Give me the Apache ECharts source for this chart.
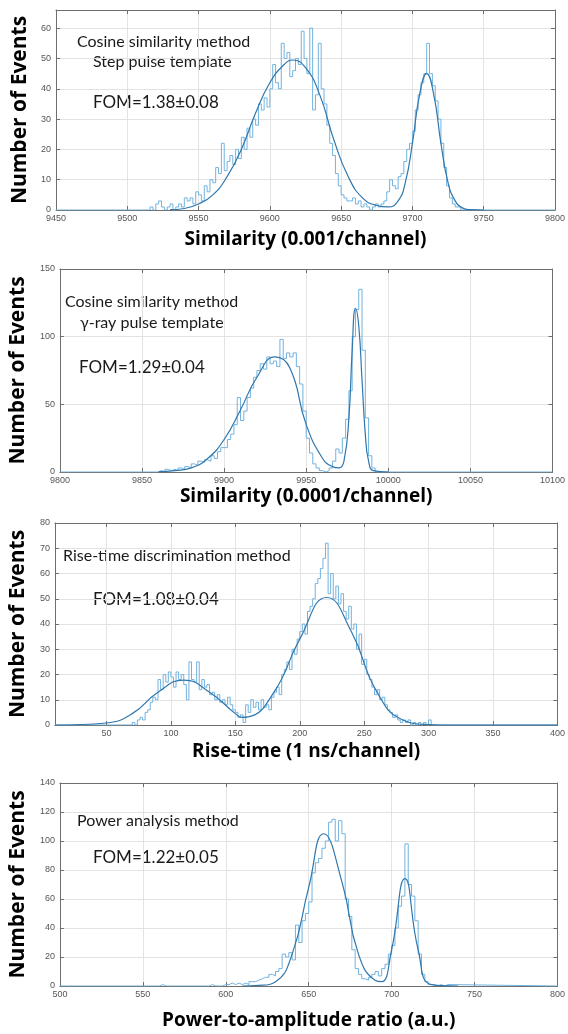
<!DOCTYPE html>
<html><head><meta charset="utf-8">
<script src="https://cdn.jsdelivr.net/npm/echarts@6/dist/echarts.min.js"></script>
<style>html,body{margin:0;padding:0;background:#fff}#c{width:568px;height:1034px}</style>
</head><body><div id="c"></div><script>
// ---------- Panel 1: Cosine similarity, step pulse template ----------
const p1XRange = [9450, 9800];
const p1YRange = [0, 66];
const p1XTicks = [9450, 9500, 9550, 9600, 9650, 9700, 9750, 9800];
const p1YTicks = [0, 10, 20, 30, 40, 50, 60];
const p1HistStart = 9516, p1HistStep = 2;
const p1Counts = [
  1,0,2,3,1,0,1,2,0,1,
  2,1,4,3,4,2,6,5,3,8,
  6,10,9,14,12,22,13,16,18,15,
  20,17,24,20,27,24,30,28,35,33,
  37,34,40,48,42,40,55,50,52,44,
  46,50,48,59,50,45,60,33,38,55,
  40,35,28,22,18,12,8,5,4,3,
  3,4,2,3,1,2,1,0,1,2,
  1,2,3,6,10,8,7,11,12,16,
  20,22,26,33,38,42,45,55,45,41,
  36,30,22,14,8,4,2,1,1,0
];
const p1FitX = [9530,9540,9550,9560,9570,9580,9590,9600,9610,9616,9625,9635,9645,9655,9665,9675,9683,9690,9695,9700,9705,9710,9715,9720,9725,9730,9735,9740,9750];
const p1FitY = [0.1,0.5,2,5,11,20,32,42,48,49.5,47,38,23,11,4,1.5,1,3,9,22,38,45,38,22,9,3,0.7,0.1,0];

// ---------- Panel 2: Cosine similarity, gamma-ray pulse template ----------
const p2XRange = [9800, 10100];
const p2YRange = [0, 150];
const p2XTicks = [9800, 9850, 9900, 9950, 10000, 10050, 10100];
const p2YTicks = [0, 50, 100, 150];
const p2HistStart = 9860, p2HistStep = 2;
const p2Counts = [
  1,0,2,1,2,1,3,2,4,3,
  6,5,8,7,9,8,12,10,15,18,
  18,24,28,35,55,38,45,55,62,70,
  75,80,76,85,80,82,78,98,84,88,
  85,88,78,65,45,25,14,6,3,1,
  0,1,3,8,17,14,25,39,60,100,
  120,135,90,40,12,3
];
const p2FitX = [9860,9870,9880,9890,9900,9910,9920,9931,9940,9950,9960,9966,9970,9973,9976,9978,9980,9982,9984,9986,9988,9991,10000];
const p2FitY = [0.3,1,3,10,24,46,70,85,77,35,10,4,3,8,40,90,121,108,68,28,8,1,0];

// ---------- Panel 3: Rise-time discrimination ----------
const p3XRange = [10, 400];
const p3YRange = [0, 80];
const p3XTicks = [50, 100, 150, 200, 250, 300, 350, 400];
const p3YTicks = [0, 10, 20, 30, 40, 50, 60, 70, 80];
const p3HistStart = 70, p3HistStep = 2;
const p3Counts = [
  1,0,2,3,2,5,6,9,11,10,
  18,14,20,17,21,19,15,21,18,20,
  16,10,25,18,17,25,14,18,15,16,
  12,13,10,12,9,10,8,11,8,6,
  5,3,4,1,8,5,10,7,9,6,
  10,7,8,6,11,13,15,12,20,22,
  25,22,30,28,34,37,40,36,45,47,
  50,56,58,62,66,72,52,60,50,55,
  48,52,45,42,47,38,40,30,36,24,
  26,20,18,15,12,14,10,11,8,6,
  5,3,4,2,1,2,1,2,0,1,
  0,1,0,1,0,2
];
const p3FitX = [10,30,50,70,90,110,130,150,155,160,180,200,221,240,260,280,300,320,400];
const p3FitY = [0,0.2,0.8,4.5,13,17.8,13,4.5,3,3.2,13,34,50.5,37,13,2,0.2,0,0];

// ---------- Panel 4: Power analysis ----------
const p4XRange = [500, 800];
const p4YRange = [0, 140];
const p4XTicks = [500, 550, 600, 650, 700, 750, 800];
const p4YTicks = [0, 20, 40, 60, 80, 100, 120, 140];
const p4HistStart = 560, p4HistStep = 2;
const p4Counts = [
  1,0,0,0,0,0,0,0,0,0,
  0,0,0,0,0,1,0,0,0,1,
  1,2,1,2,1,2,1,3,3,4,
  5,6,6,8,7,10,12,22,20,23,
  18,42,30,45,50,58,78,85,88,95,
  100,113,115,100,114,105,60,48,25,12,
  8,5,4,6,8,10,7,12,15,22,
  28,40,55,62,98,70,62,45,22,8,
  3,1,1,0,1,0,1
];
const p4FitX = [610,620,630,640,650,659,670,680,690,694,700,708,716,724,740];
const p4FitY = [0,0.4,3,22,68,105,72,22,4,3,25,74,25,1,0];

// ---------- texts ----------
const xNames = ['Similarity (0.001/channel)', 'Similarity (0.0001/channel)', 'Rise-time (1 ns/channel)', 'Power-to-amplitude ratio (a.u.)'];
const yName = 'Number of Events';
const notes = [
  ['Cosine similarity method', 'Step pulse template', 'FOM=1.38±0.08'],
  ['Cosine similarity method', 'γ-ray pulse template', 'FOM=1.29±0.04'],
  ['Rise-time discrimination method', 'FOM=1.08±0.04'],
  ['Power analysis method', 'FOM=1.22±0.05']
];

// ---------- build ----------
function histPoints(start, step, counts, range) {
  const pts = [[range[0], 0]];
  counts.forEach((c, i) => pts.push([start + i * step, c]));
  pts.push([start + counts.length * step, 0]);
  pts.push([range[1], 0]);
  return pts;
}
function zip(xs, ys) { return xs.map((x, i) => [x, ys[i]]); }

const panels = [
  {x: p1XRange, y: p1YRange, xt: p1XTicks, yt: p1YTicks, h: histPoints(p1HistStart, p1HistStep, p1Counts, p1XRange), f: zip(p1FitX, p1FitY)},
  {x: p2XRange, y: p2YRange, xt: p2XTicks, yt: p2YTicks, h: histPoints(p2HistStart, p2HistStep, p2Counts, p2XRange), f: zip(p2FitX, p2FitY)},
  {x: p3XRange, y: p3YRange, xt: p3XTicks, yt: p3YTicks, h: histPoints(p3HistStart, p3HistStep, p3Counts, p3XRange), f: zip(p3FitX, p3FitY)},
  {x: p4XRange, y: p4YRange, xt: p4XTicks, yt: p4YTicks, h: histPoints(p4HistStart, p4HistStep, p4Counts, p4XRange), f: zip(p4FitX, p4FitY)}
];

const gridBoxes = [
  {left: 56, top: 10, width: 502, height: 200},
  {left: 53, top: 269, width: 505, height: 203},
  {left: 52, top: 523, width: 506, height: 202},
  {left: 52, top: 783, width: 506, height: 203}
];
const xNameGaps = [20, 15, 17, 25];
const yNameGaps = [25, 22, 22, 22];
const notePos = [
  [[77, 42, 16], [93, 62, 16], [93, 103, 17]],
  [[65, 302, 16], [80, 323, 16], [79, 368, 17]],
  [[63, 556, 16], [93, 600, 17]],
  [[77, 821, 16], [93, 858, 17]]
];

const axisColor = '#6e6e6e';
const gridColor = '#e3e3e3';
const tickFont = {fontSize: 9, color: '#555', fontFamily: 'Liberation Sans', formatter: v => String(v)};

const option = {
  animation: false,
  backgroundColor: '#fff',
  grid: gridBoxes.map(g => Object.assign({containLabel: false}, g)),
  xAxis: [], yAxis: [], series: [], graphic: []
};

panels.forEach((p, i) => {
  option.xAxis.push({
    type: 'value', gridIndex: i, min: p.x[0], max: p.x[1],
    name: xNames[i], nameLocation: 'middle', nameGap: xNameGaps[i],
    nameTextStyle: {fontFamily: 'Open Sans', fontWeight: 'bold', fontSize: 19, color: '#000'},
    axisLine: {show: true, lineStyle: {color: axisColor, width: 1}},
    axisTick: {show: true, inside: true, length: 4, lineStyle: {color: axisColor}, customValues: p.xt},
    axisLabel: Object.assign({margin: 4, customValues: p.xt}, tickFont),
    splitLine: {show: true, lineStyle: {color: gridColor, width: 1}}
  });
  option.xAxis.push({
    type: 'value', gridIndex: i, min: p.x[0], max: p.x[1], position: 'top',
    axisLine: {show: true, onZero: false, lineStyle: {color: axisColor, width: 1}},
    axisTick: {show: true, inside: true, length: 4, lineStyle: {color: axisColor}, customValues: p.xt},
    axisLabel: {show: false}, splitLine: {show: false}
  });
  option.yAxis.push({
    type: 'value', gridIndex: i, min: p.y[0], max: p.y[1],
    name: yName, nameLocation: 'middle', nameGap: yNameGaps[i],
    nameTextStyle: {fontFamily: 'Open Sans', fontWeight: 'bold', fontSize: 21, color: '#000'},
    axisLine: {show: true, lineStyle: {color: axisColor, width: 1}},
    axisTick: {show: true, inside: true, length: 4, lineStyle: {color: axisColor}, customValues: p.yt},
    axisLabel: Object.assign({margin: 5, customValues: p.yt}, tickFont),
    splitLine: {show: true, lineStyle: {color: gridColor, width: 1}}
  });
  option.yAxis.push({
    type: 'value', gridIndex: i, min: p.y[0], max: p.y[1], position: 'right',
    axisLine: {show: true, onZero: false, lineStyle: {color: axisColor, width: 1}},
    axisTick: {show: true, inside: true, length: 4, lineStyle: {color: axisColor}, customValues: p.yt},
    axisLabel: {show: false}, splitLine: {show: false}
  });
  option.series.push({
    type: 'line', xAxisIndex: 2 * i, yAxisIndex: 2 * i, data: p.h, step: 'end',
    symbol: 'none', lineStyle: {color: '#72b3de', width: 1}, z: 2
  });
  option.series.push({
    type: 'line', xAxisIndex: 2 * i, yAxisIndex: 2 * i, data: p.f, smooth: 0.5,
    symbol: 'none', lineStyle: {color: '#2f77ad', width: 1.2}, z: 3
  });
  notes[i].forEach((t, k) => {
    const pos = notePos[i][k];
    option.graphic.push({
      type: 'text', x: pos[0], y: pos[1],
      style: {text: t, fontFamily: 'Lato', fontSize: pos[2], fill: '#1a1a1a', verticalAlign: 'middle'}
    });
  });
});

const chart = echarts.init(document.getElementById('c'), null, {renderer: 'canvas'});
chart.setOption(option);
</script></body></html>
